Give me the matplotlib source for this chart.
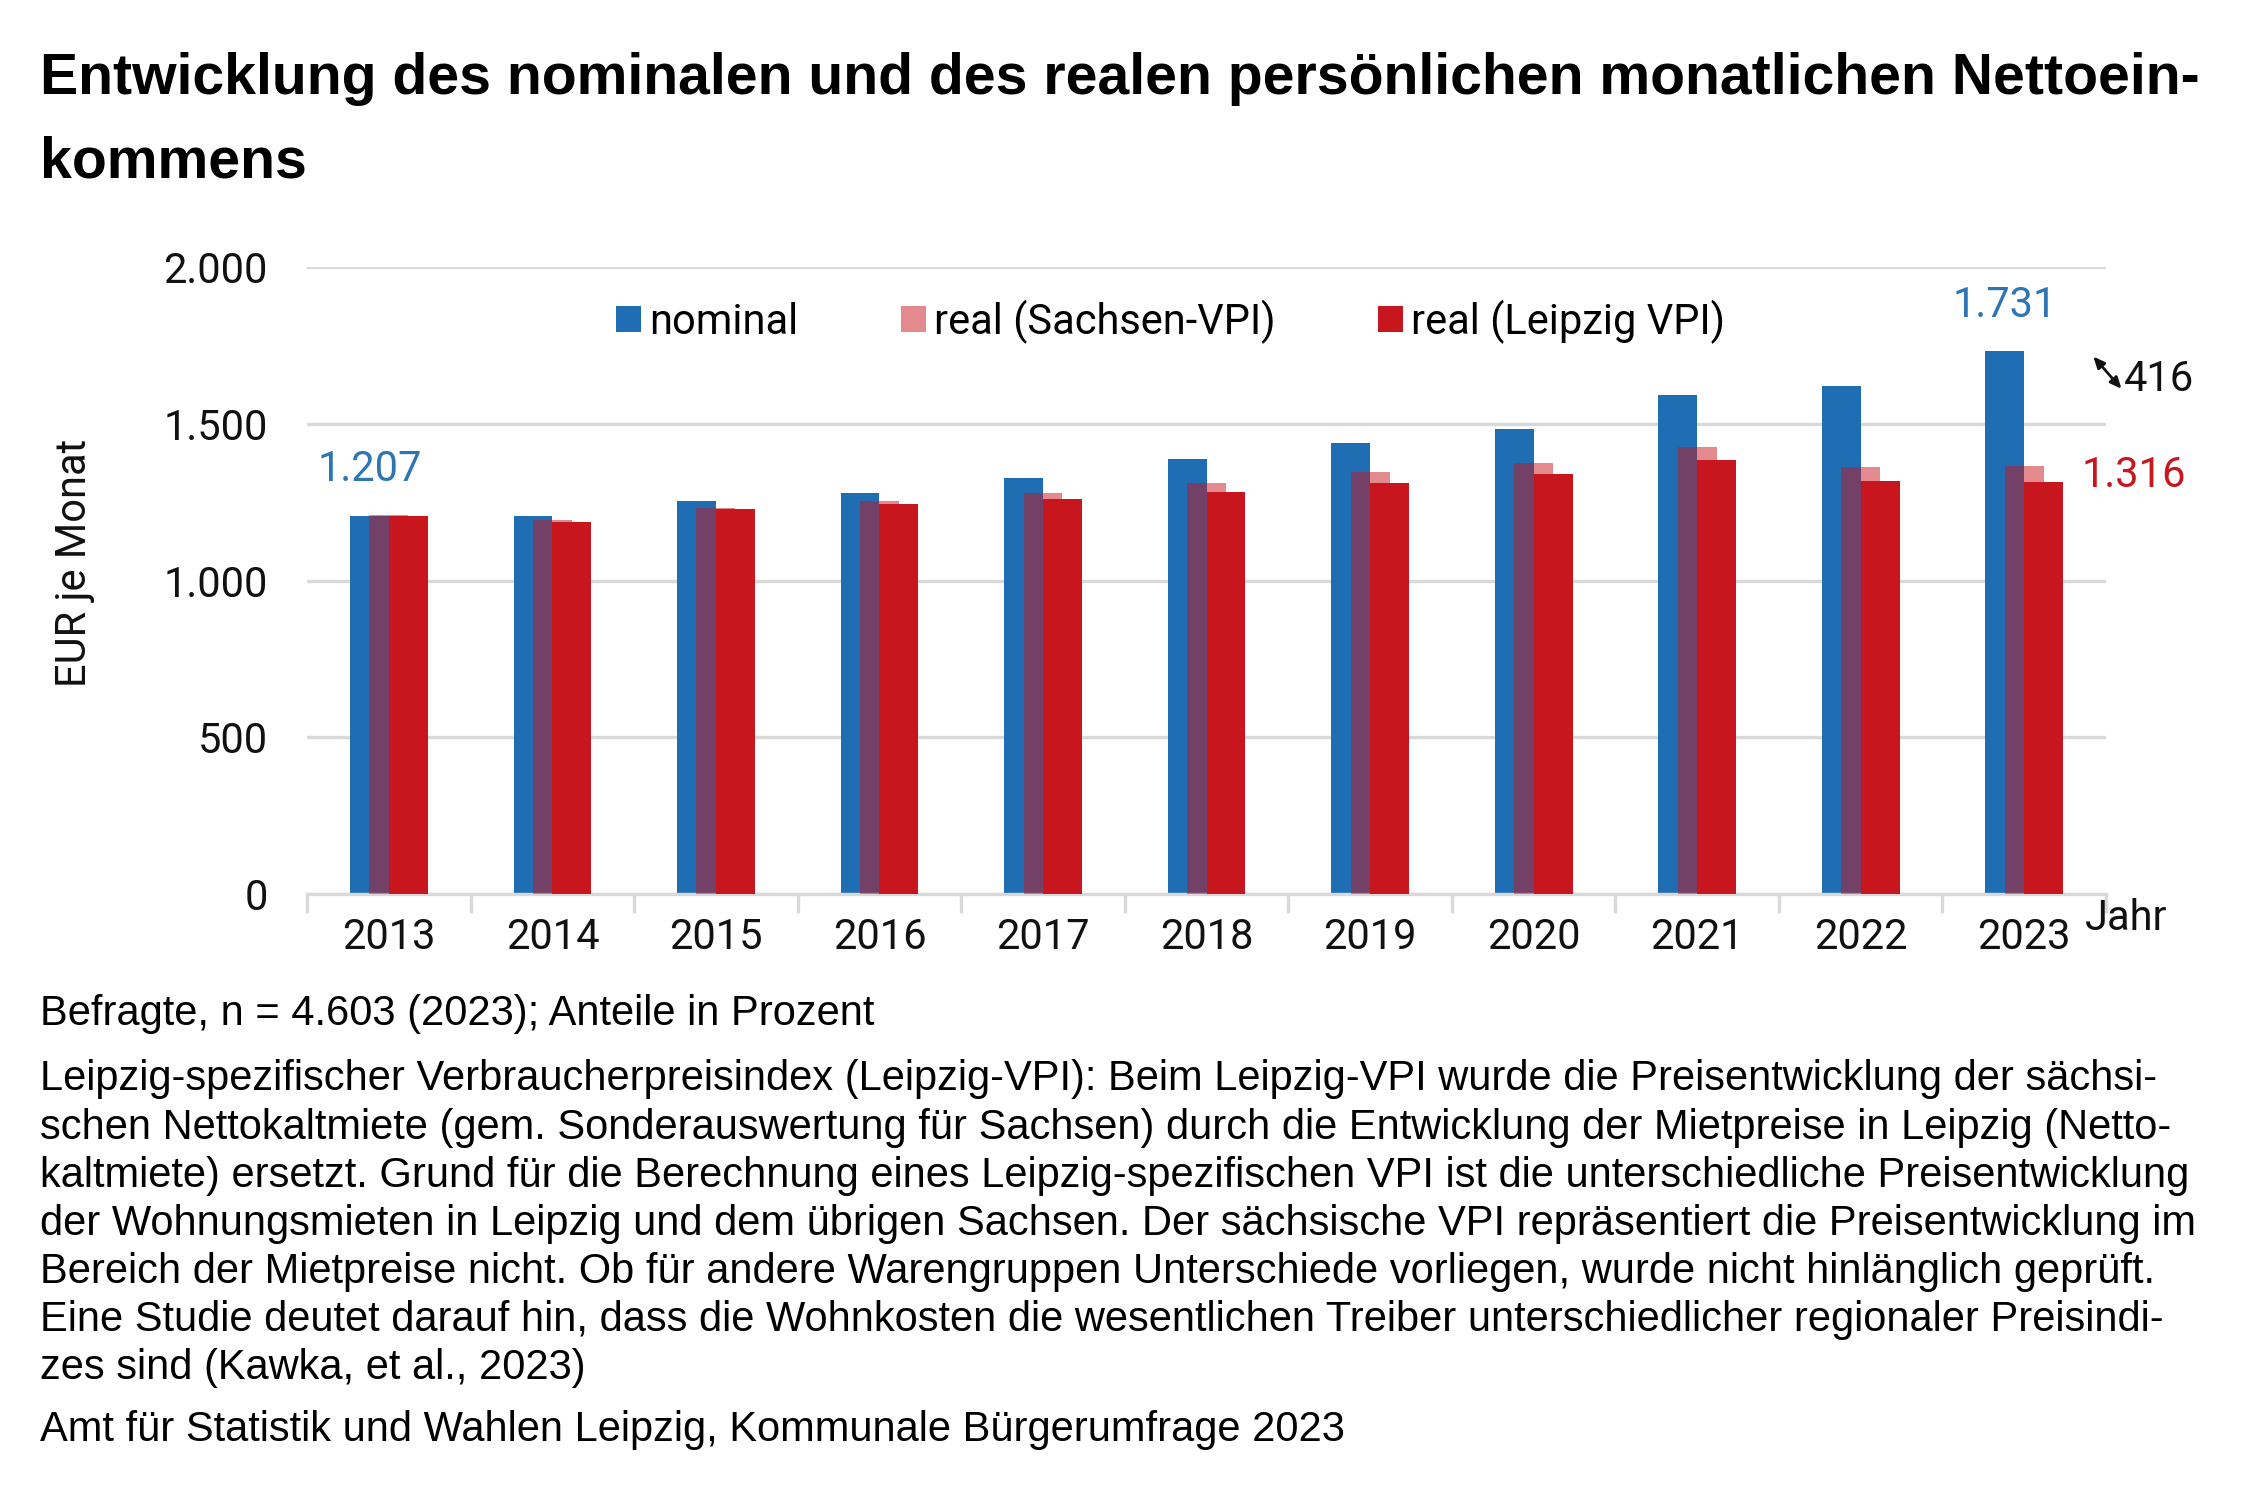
import matplotlib
matplotlib.use("Agg")
import matplotlib.pyplot as plt
import numpy as np
from matplotlib.ticker import FuncFormatter, FixedLocator
from matplotlib.transforms import offset_copy

years = ["2013", "2014", "2015", "2016", "2017", "2018", "2019", "2020", "2021", "2022", "2023"]
nominal = [1207, 1207, 1255, 1279, 1328, 1387, 1440, 1483, 1591, 1622, 1731]
real_sachsen = [1209, 1194, 1232, 1255, 1280, 1312, 1345, 1374, 1427, 1362, 1364]
real_leipzig = [1206, 1186, 1229, 1243, 1260, 1282, 1312, 1339, 1384, 1318, 1316]

series_labels = ["nominal", "real (Sachsen-VPI)", "real (Leipzig VPI)"]
title_lines = ["Entwicklung des nominalen und des realen persönlichen monatlichen Nettoein-",
               "kommens"]
note_first = "Befragte, n = 4.603 (2023); Anteile in Prozent"
note_lines = [
    "Leipzig-spezifischer Verbraucherpreisindex (Leipzig-VPI): Beim Leipzig-VPI wurde die Preisentwicklung der sächsi-",
    "schen Nettokaltmiete (gem. Sonderauswertung für Sachsen) durch die Entwicklung der Mietpreise in Leipzig (Netto-",
    "kaltmiete) ersetzt. Grund für die Berechnung eines Leipzig-spezifischen VPI ist die unterschiedliche Preisentwicklung",
    "der Wohnungsmieten in Leipzig und dem übrigen Sachsen. Der sächsische VPI repräsentiert die Preisentwicklung im",
    "Bereich der Mietpreise nicht. Ob für andere Warengruppen Unterschiede vorliegen, wurde nicht hinlänglich geprüft.",
    "Eine Studie deutet darauf hin, dass die Wohnkosten die wesentlichen Treiber unterschiedlicher regionaler Preisindi-",
    "zes sind (Kawka, et al., 2023)",
]
source = "Amt für Statistik und Wahlen Leipzig, Kommunale Bürgerumfrage 2023"
diff_label = "416"

blue = "#1F6EB4"
red = "#C8161E"
grid_col = "#D9D9D9"
chart_font = ["Roboto", "DejaVu Sans"]
text_font = ["Liberation Sans", "DejaVu Sans"]
fs = 20

fig = plt.figure(figsize=(15, 10), dpi=150)
ax = fig.add_axes([0.1365, 0.4038, 0.7995, 0.4182])

x = np.arange(len(years))
w = 0.238
ax.bar(x - w / 2, nominal, w, color=blue, label=series_labels[0], zorder=2)
ax.bar(x + w / 2, real_leipzig, w, color=red, label=series_labels[2], zorder=3)
ax.bar(x, real_sachsen, w, color=red, alpha=0.5, lw=0, label=series_labels[1], zorder=4)

ax.set_xlim(-0.5, len(years) - 0.5)
ax.set_ylim(0, 2000)
ax.set_yticks([0, 500, 1000, 1500, 2000])
ax.yaxis.set_major_formatter(FuncFormatter(lambda v, p: f"{int(v):,}".replace(",", ".")))
ax.grid(axis="y", color=grid_col, lw=1.6, zorder=0)
ax.set_axisbelow(True)
for s in ["top", "right", "left"]:
    ax.spines[s].set_visible(False)
ax.spines["bottom"].set_color(grid_col)
ax.spines["bottom"].set_linewidth(1.6)

ax.set_xticks(x)
ax.set_xticklabels(years)
ax.xaxis.set_minor_locator(FixedLocator(np.arange(-0.5, len(years) + 0.5, 1)))
ax.tick_params(axis="x", which="major", length=0, pad=11, labelsize=fs)
ax.tick_params(axis="x", which="minor", length=9, width=1.6, color=grid_col)
ax.tick_params(axis="y", length=0, pad=19, labelsize=fs)
for lab in ax.get_xticklabels() + ax.get_yticklabels():
    lab.set_family(chart_font)
    lab.set_color("#111111")

handles, labels = ax.get_legend_handles_labels()
order = [0, 2, 1]
ax.legend([handles[i] for i in order], [labels[i] for i in order], ncol=3, loc="center",
          bbox_to_anchor=(0.48, 0.913), frameon=False, handlelength=0.6, handleheight=0.6,
          handletextpad=0.2, columnspacing=2.45, prop={"family": chart_font, "size": fs})

# value labels
ax.annotate(f"{nominal[0]:,}".replace(",", "."), (x[0] - w / 2, nominal[0]), xytext=(0, 22),
            textcoords="offset points", ha="center", va="center", color="#2E75B6",
            fontsize=fs, family=chart_font)
ax.annotate(f"{nominal[-1]:,}".replace(",", "."), (x[-1] - w / 2, nominal[-1]), xytext=(0, 22),
            textcoords="offset points", ha="center", va="center", color="#2E75B6",
            fontsize=fs, family=chart_font)
ax.annotate(f"{real_leipzig[-1]:,}".replace(",", "."), (x[-1] + w, real_leipzig[-1]), xytext=(9, 3),
            textcoords="offset points", ha="left", va="center", color=red,
            fontsize=fs, family=chart_font, annotation_clip=False)

# difference marker: two-headed diagonal arrow + number
anchor = (x[-1] + w, real_leipzig[-1])
ax.annotate(diff_label, anchor, xytext=(29, 49),
            textcoords="offset points", ha="left", va="center", color="#111111",
            fontsize=fs, family=chart_font, annotation_clip=False)
t_start = offset_copy(ax.transData, fig=fig, x=14.5, y=60, units="points")
t_end = offset_copy(ax.transData, fig=fig, x=28, y=44.5, units="points")
ax.annotate("", xy=anchor, xycoords=t_end, xytext=anchor, textcoords=t_start,
            arrowprops=dict(arrowstyle="<|-|>,head_length=0.45,head_width=0.2",
                            color="#111111", lw=1.3, shrinkA=0, shrinkB=0),
            annotation_clip=False)

ax.text(0.988, -0.039, "Jahr", transform=ax.transAxes, ha="left", va="center",
        fontsize=fs, family=chart_font, color="#111111")

fig.text(0.033, 0.625, "EUR je Monat", rotation=90, ha="center", va="center",
         fontsize=fs, family=chart_font, color="#111111")

# title
fig.text(0.018, 0.9375, title_lines[0], ha="left", va="baseline", fontsize=27.4,
         fontweight="bold", family=text_font)
fig.text(0.018, 0.8817, title_lines[1], ha="left", va="baseline", fontsize=27.4,
         fontweight="bold", family=text_font)

# notes
fig.text(0.018, 1 - 711 / 1040, note_first, ha="left", va="baseline", fontsize=20, family=text_font)
for i, line in enumerate(note_lines):
    fig.text(0.018, 1 - (756 + i * 33.4) / 1040, line, ha="left", va="baseline",
             fontsize=20, family=text_font)
fig.text(0.018, 1 - 999 / 1040, source, ha="left", va="baseline", fontsize=20, family=text_font)

fig.savefig("out.png", dpi=150, facecolor="white")
